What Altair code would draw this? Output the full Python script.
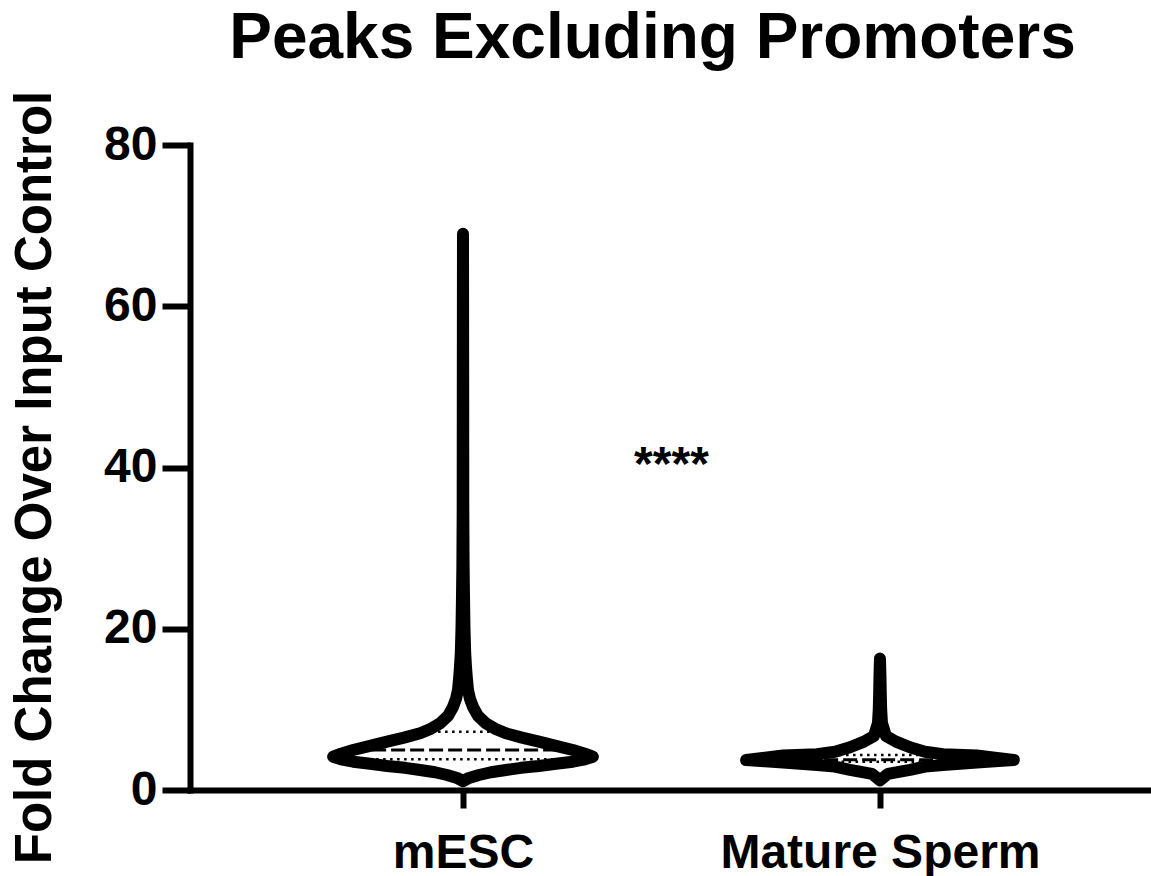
import altair as alt
import numpy as np
import pandas as pd

# ---------------- data ----------------
categories = ["mESC", "Mature Sperm"]
cat_pos = [1, 2]

# violin outline: fold-change values and relative density (half-width) at each value
mesc_values = [1.1, 1.5, 1.86, 2.2, 2.48, 2.75, 2.98, 3.25, 3.51, 3.8, 4.13, 4.5, 4.96, 5.5, 6.0, 6.5,
               7.03, 7.6, 8.27, 9.2, 10.3, 11.3, 12.4, 14.0, 15.3, 17.0, 20.0, 24.0, 28.0, 35.0, 50.0, 69.0]
mesc_density = [0, 6, 16, 28, 43, 58, 76, 93, 110, 122, 130, 122, 110, 92, 76, 59,
                43, 32, 23, 15, 10, 7, 5, 3.8, 3.0, 2.2, 1.5, 1.0, 0.6, 0.3, 0.2, 0]

sperm_values = [1.2, 2.0, 2.5, 2.9, 3.1, 3.41, 3.55, 3.72, 4.0, 4.28, 4.45, 4.75, 5.3, 6.0, 6.7,
                8.3, 10.0, 12.0, 14.0, 16.3]
sperm_density = [0, 8, 30, 45, 63, 97, 115, 134, 115, 97, 63, 45, 30, 16, 6,
                 2, 1.2, 0.8, 0.5, 0]

# quartiles (Q1, median, Q3)
mesc_quartiles = [3.8, 4.96, 7.24]
sperm_quartiles = [3.5, 3.75, 4.35]
quartile_kind = ["quartile", "median", "quartile"]

signif_label = "****"
signif_y = 38.5

y_ticks = [0, 20, 40, 60, 80]

# ---------------- build tables ----------------
HALF = 0.321  # max half-width of a violin in category units
dmax = max(max(mesc_density), max(sperm_density))

rows = []
qrows = []
for name, pos, vals, dens, quart in [
    (categories[0], cat_pos[0], mesc_values, mesc_density, mesc_quartiles),
    (categories[1], cat_pos[1], sperm_values, sperm_density, sperm_quartiles),
]:
    for v, d in zip(vals, dens):
        w = d / dmax * HALF
        rows.append({"group": name, "value": v, "left": pos - w, "right": pos + w})
    for q, k in zip(quart, quartile_kind):
        w = np.interp(q, vals, dens) / dmax * HALF
        qrows.append({"group": name, "value": q, "left": pos - w, "right": pos + w, "kind": k})

violin = pd.DataFrame(rows).sort_values(["group", "value"])
quarts = pd.DataFrame(qrows)
sig = pd.DataFrame({"x": [(cat_pos[0] + cat_pos[1]) / 2], "y": [signif_y], "label": [signif_label]})

FONT = "Liberation Sans"
label_expr = f"datum.value == {cat_pos[0]} ? '{categories[0]}' : '{categories[1]}'"

x_scale = alt.Scale(domain=[0.3453, 2.65], nice=False, zero=False)
y_scale = alt.Scale(domain=[0, 80], nice=False, zero=False)

x_axis = alt.Axis(
    values=cat_pos, labelExpr=label_expr, title=None, grid=False,
    tickSize=18, tickWidth=6, tickColor="black",
    domainWidth=6, domainColor="black", domainCap="square",
    labelFont=FONT, labelFontSize=48, labelFontWeight="bold", labelColor="black",
    labelBaseline="alphabetic", labelPadding=59, labelAlign="center", labelLimit=0,
)
y_axis = alt.Axis(
    values=y_ticks, grid=False, title="Fold Change Over Input Control",
    tickSize=28, tickWidth=6, tickColor="black",
    domainWidth=6, domainColor="black", domainCap="square",
    labelFont=FONT, labelFontSize=48, labelFontWeight="bold", labelColor="black",
    labelPadding=5,
    titleFont=FONT, titleFontSize=51, titleFontWeight="bold", titleColor="black",
    titleAngle=270, titleX=-140, titleY=332, titleAlign="center", titleBaseline="alphabetic",
)

base = alt.Chart(violin)

fill = base.mark_area(orient="horizontal", color="white").encode(
    y=alt.Y("value:Q", scale=y_scale, axis=y_axis),
    x=alt.X("left:Q", scale=x_scale, axis=x_axis),
    x2="right:Q",
    detail="group:N",
)

dotted = alt.Chart(quarts).transform_filter("datum.kind == 'quartile'").mark_rule(
    color="black", strokeWidth=2.5, strokeDash=[2.5, 4.5]
).encode(y="value:Q", x="left:Q", x2="right:Q")

dashed = alt.Chart(quarts).transform_filter("datum.kind == 'median'").mark_rule(
    color="black", strokeWidth=3, strokeDash=[14, 5]
).encode(y="value:Q", x="left:Q", x2="right:Q")

outline = base.mark_area(
    orient="horizontal", color="black", fillOpacity=0, stroke="black",
    strokeWidth=12, strokeJoin="round", strokeCap="round",
).encode(y="value:Q", x="left:Q", x2="right:Q", detail="group:N")

stars = alt.Chart(sig).mark_text(
    font=FONT, fontSize=48, fontWeight="bold", color="black", baseline="alphabetic", align="center"
).encode(x="x:Q", y="y:Q", text="label:N")

chart = alt.layer(fill, dotted, dashed, outline, stars).properties(
    width=961, height=645,
    padding={"left": 190, "top": 145, "right": 0, "bottom": 86},
    autosize=alt.AutoSizeParams(type="none"),
    background="white",
    title=alt.TitleParams(
        "Peaks Excluding Promoters", font=FONT, fontSize=64, fontWeight="bold",
        color="black", anchor="middle", dx=-18, offset=19,
    ),
).configure_view(strokeWidth=0)

chart.save("out.html", embed_options={"renderer": "svg", "actions": False})
